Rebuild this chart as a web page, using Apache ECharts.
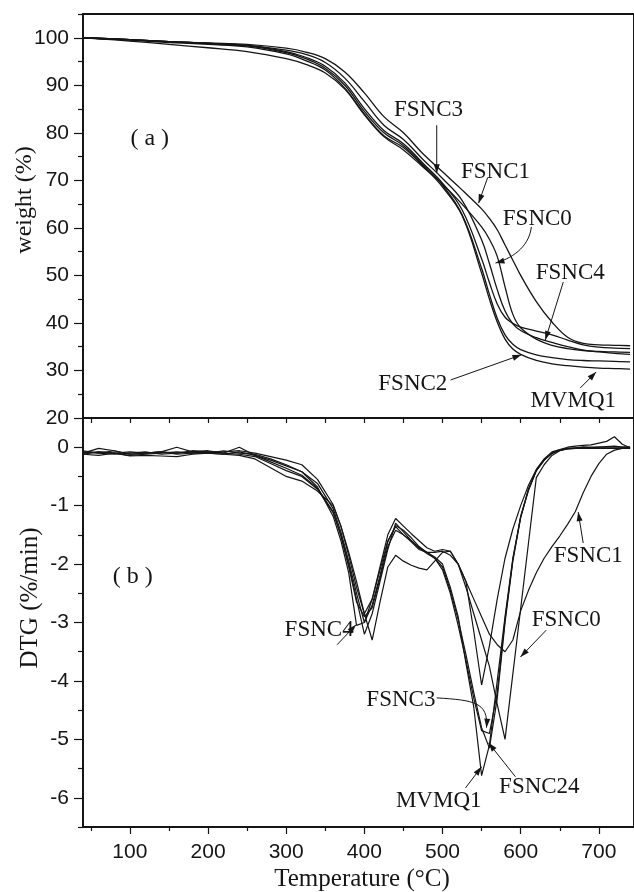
<!DOCTYPE html>
<html>
<head>
    <meta http-equiv=Content-Type content="text/html; charset=utf-8">
    <title>TG / DTG</title>
    <script type="text/javascript" src="https://cdn.jsdelivr.net/npm/echarts@6/dist/echarts.min.js"></script>
    <style>
        html, body { margin: 0; padding: 0; background: #fff; }
        #chartmain { width: 634px; height: 892px; }
    </style>
</head>
<body>
<div id="chartmain"></div>

<script type="text/javascript">
    // ---- (a) weight curves, temperature in degC
    var tempW = [40,100,150,200,250,300,325,350,375,400,425,450,475,500,525,550,560,570,580,590,600,620,640,660,680,700,720,740];
    var wMVMQ1 = [100,99.5,99.0,98.6,98.1,96.6,95.2,93.2,89.4,84.0,79.4,76.9,73.0,68.6,62.6,50.5,45.0,40.2,36.6,34.5,33.4,32.1,31.4,31.0,30.7,30.5,30.4,30.3];
    var wFSNC0 = [100,99.3,98.6,97.9,97.1,95.6,94.4,92.6,89.2,83.8,79.2,76.4,72.8,69.2,65.0,60.2,57.6,54.0,47.6,41.8,39.0,36.6,35.3,34.6,34.2,34.0,33.9,33.8];
    var wFSNC1 = [100,99.6,99.2,98.9,98.6,97.8,97.0,95.6,92.8,88.4,83.4,80.0,75.6,71.8,68.0,64.0,62.0,59.6,56.4,53.2,50.0,44.5,40.2,37.0,35.7,35.4,35.3,35.2];
    var wFSNC2 = [100,99.6,99.2,98.8,98.3,96.9,95.6,93.6,90.0,84.5,80.0,77.3,73.3,69.0,62.8,51.5,46.0,41.0,37.5,35.5,34.4,33.3,32.7,32.3,32.1,32.0,31.9,31.8];
    var wFSNC3 = [100,99.6,99.2,98.8,98.4,97.4,96.5,94.8,91.5,86.6,81.6,78.6,74.4,70.4,65.8,57.5,52.5,47.0,42.5,39.8,38.4,36.9,35.9,35.0,34.3,33.9,33.6,33.4];
    var wFSNC4 = [100,99.6,99.2,98.8,98.4,97.1,95.9,94.0,90.5,85.1,80.5,77.7,73.6,69.4,63.8,53.5,48.5,44.0,41.2,39.9,39.1,38.3,37.5,36.4,35.4,34.9,34.7,34.6];

    // ---- (b) DTG curves (%/min)
    var tempD = [40,60,80,100,120,140,160,180,200,220,240,260,280,300,320,340,360,
        370,380,390,400,410,420,430,440,450,460,470,480,490,500,510,520,530,540,550,560,570,580,590,600,
        610,620,630,640,650,660,670,680,690,700,710,720,730,740];
    var dMVMQ1 = [-0.08,-0.1,-0.06,-0.12,-0.1,-0.08,-0.1,-0.06,-0.08,-0.1,-0.12,
        -0.16,-0.28,-0.4,-0.5,-0.72,-1.12,
        -1.5,-2.0,-2.6,-3.2,-2.85,-2.3,-1.75,-1.3,-1.45,-1.6,-1.72,-1.8,-1.88,
        -2.0,-2.4,-2.9,-3.7,-4.45,-5.62,-5.1,-4.0,-2.9,-1.9,-1.2,-0.72,-0.4,-0.22,-0.1,-0.05,-0.03,-0.02,-0.02,-0.02,-0.02,-0.02,-0.02,-0.02,-0.02];
    var dFSNC0 = [-0.1,-0.08,-0.1,-0.08,-0.1,-0.08,-0.12,-0.1,-0.08,-0.08,-0.06,
        -0.1,-0.16,-0.22,-0.3,-0.55,-0.98,
        -1.35,-1.85,-2.4,-2.85,-2.6,-2.05,-1.5,-1.22,-1.35,-1.48,-1.6,-1.72,-1.78,
        -1.75,-1.78,-2.0,-2.4,-2.85,-3.3,-3.75,-4.4,-5.0,-3.88,-2.76,-1.64,-0.52,-0.3,-0.14,-0.06,-0.03,-0.02,-0.02,-0.02,-0.02,-0.02,-0.02,-0.02,-0.02];
    var dFSNC1 = [-0.12,-0.14,-0.1,-0.15,-0.14,-0.15,-0.16,-0.12,-0.1,-0.12,-0.14,
        -0.2,-0.35,-0.5,-0.58,-0.75,-1.0,
        -1.35,-1.8,-2.3,-2.85,-3.3,-2.65,-2.05,-1.85,-1.95,-2.02,-2.07,-2.1,-1.95,
        -1.8,-1.78,-2.0,-2.3,-2.6,-2.9,-3.2,-3.38,-3.5,-3.3,-2.8,-2.45,-2.15,-1.9,-1.7,-1.52,-1.32,-1.1,-0.78,-0.5,-0.28,-0.12,-0.05,-0.02,-0.02];
    var dFSNC2 = [-0.12,-0.08,-0.1,-0.14,-0.12,-0.1,-0.08,-0.1,-0.1,-0.06,-0.1,
        -0.12,-0.2,-0.3,-0.42,-0.62,-1.05,
        -1.45,-1.95,-2.5,-3.0,-2.7,-2.2,-1.62,-1.34,-1.42,-1.55,-1.7,-1.8,-1.9,
        -2.05,-2.45,-2.95,-3.55,-4.2,-4.8,-5.15,-4.3,-3.0,-1.95,-1.2,-0.74,-0.4,-0.22,-0.11,-0.05,-0.02,-0.02,0.0,-0.01,0.0,0.01,0.02,0.0,0.0];
    var dFSNC3 = [-0.06,-0.1,-0.12,-0.1,-0.08,-0.12,-0.1,-0.08,-0.1,-0.12,-0.08,
        -0.14,-0.25,-0.36,-0.48,-0.7,-1.1,
        -1.52,-2.05,-2.65,-2.9,-2.75,-2.25,-1.7,-1.42,-1.5,-1.6,-1.72,-1.82,-1.9,
        -2.1,-2.5,-3.05,-3.65,-4.3,-4.85,-4.9,-4.2,-2.95,-1.92,-1.18,-0.72,-0.4,-0.22,-0.1,-0.05,-0.02,-0.01,0.0,0.0,0.0,0.0,0.0,0.0,0.0];
    var dFSNC4 = [-0.1,-0.02,-0.06,-0.12,-0.1,-0.08,0.0,-0.08,-0.06,-0.1,0.0,
        -0.14,-0.22,-0.32,-0.42,-0.68,-1.18,
        -1.6,-2.15,-3.05,-3.0,-2.6,-2.1,-1.6,-1.36,-1.5,-1.62,-1.75,-1.8,-1.8,
        -1.78,-1.85,-2.0,-2.3,-3.15,-4.07,-3.4,-2.6,-1.9,-1.4,-1.0,-0.65,-0.38,-0.2,-0.08,-0.04,0.0,0.02,0.03,0.04,0.07,0.1,0.18,0.05,-0.01];

    // axis ticks
    var weightTicks = [20,30,40,50,60,70,80,90,100];
    var weightMinorTicks = [25,35,45,55,65,75,85,95,105];
    var dtgTicks = [-6,-5,-4,-3,-2,-1,0];
    var dtgMinorTicks = [-6.5,-5.5,-4.5,-3.5,-2.5,-1.5,-0.5];
    var tempTicks = [100,200,300,400,500,600,700];
    var tempMinorTicks = [50,150,250,350,450,550,650];
    var tempAllTicks = [50,100,150,200,250,300,350,400,450,500,550,600,650,700];

    // callouts, in data units: [temperature, value]
    var notesTop = [
        {text: 'FSNC3', at: [482, 84.8], from: [492.6, 81.6], to: [492.6, 71.5]},
        {text: 'FSNC1', at: [567.8, 71.8], from: [557.6, 70.5], to: [546.1, 65.2]},
        {text: 'FSNC0', at: [621.3, 61.9], from: [613.7, 60.2], c1: [611.1, 56.6], c2: [594.6, 53.9], to: [567.8, 52.6]},
        {text: 'FSNC4', at: [663.4, 50.5], from: [654.5, 48.6], to: [631.5, 36.4]},
        {text: 'FSNC2', at: [462, 27.2], from: [510.4, 28.0], to: [601, 33.3]},
        {text: 'MVMQ1', at: [667.2, 23.6], from: [676.2, 26.3], to: [696.6, 29.7]}
    ];
    var notesBottom = [
        {text: 'FSNC1', at: [686.4, -1.86], from: [680, -1.64], to: [673.6, -1.11]},
        {text: 'FSNC0', at: [658.3, -2.96], from: [632.8, -3.13], to: [599.7, -3.59]},
        {text: 'FSNC4', at: [342.1, -3.13], from: [365.1, -3.38], to: [389.3, -3.04]},
        {text: 'FSNC3', at: [446.7, -4.33], from: [492.6, -4.29], c1: [539.8, -4.33], c2: [558.9, -4.36], to: [556.3, -4.80]},
        {text: 'FSNC24', at: [623.9, -5.82], from: [593.3, -5.64], to: [558.9, -5.06]},
        {text: 'MVMQ1', at: [495.1, -6.05], from: [529.5, -5.83], to: [549.9, -5.47]}
    ];

    var ink = '#151515';
    var sans = '"Liberation Sans", Arial, sans-serif';
    var serif = '"Liberation Serif", "Times New Roman", serif';

    function pairs(xs, ys) {
        return xs.map(function (x, i) { return [x, ys[i]]; });
    }

    var tgaList = [['MVMQ1', wMVMQ1], ['FSNC0', wFSNC0], ['FSNC1', wFSNC1], ['FSNC2', wFSNC2], ['FSNC3', wFSNC3], ['FSNC4', wFSNC4]];
    var dtgList = [['MVMQ1', dMVMQ1], ['FSNC0', dFSNC0], ['FSNC1', dFSNC1], ['FSNC2', dFSNC2], ['FSNC3', dFSNC3], ['FSNC4', dFSNC4]];

    var series = [];
    tgaList.forEach(function (s) {
        series.push({
            name: s[0], type: 'line', xAxisIndex: 0, yAxisIndex: 0,
            data: pairs(tempW, s[1]), smooth: 0.4, showSymbol: false, symbol: 'none',
            lineStyle: {color: ink, width: 1.3}, silent: true
        });
    });
    dtgList.forEach(function (s) {
        series.push({
            name: s[0], type: 'line', xAxisIndex: 1, yAxisIndex: 1,
            data: pairs(tempD, s[1]), smooth: false, showSymbol: false, symbol: 'none',
            lineStyle: {color: ink, width: 1.2}, silent: true
        });
    });

    var axisLine = {show: true, onZero: false, lineStyle: {color: ink, width: 2}};
    var noLine = {show: false, onZero: false};
    var tickStyle = {color: ink, width: 1.2};
    var labelStyle = {show: true, color: ink, fontSize: 21, fontFamily: sans};

    // extra axes that only carry the short ticks
    function minorX(grid, values, len) {
        return {
            type: 'value', gridIndex: grid, min: 40, max: 745, position: 'bottom',
            axisLine: noLine, axisLabel: {show: false}, splitLine: {show: false},
            axisTick: {show: true, length: len, customValues: values, lineStyle: tickStyle}
        };
    }
    function minorY(grid, min, max, values) {
        return {
            type: 'value', gridIndex: grid, min: min, max: max, position: 'left',
            axisLine: noLine, axisLabel: {show: false}, splitLine: {show: false},
            axisTick: {show: true, length: 5, customValues: values, lineStyle: tickStyle}
        };
    }

    var chart = echarts.init(document.getElementById('chartmain'));
    chart.setOption({
        animation: false,
        backgroundColor: '#fff',
        grid: [
            {left: 83, top: 14, width: 553, height: 404, show: true, borderColor: ink, borderWidth: 2},
            {left: 83, top: 418, width: 553, height: 409, show: true, borderColor: ink, borderWidth: 2}
        ],
        xAxis: [
            {
                type: 'value', gridIndex: 0, min: 40, max: 745, position: 'bottom',
                axisLine: axisLine,
                axisTick: {show: true, length: 5, customValues: tempAllTicks, lineStyle: tickStyle},
                axisLabel: {show: false}, splitLine: {show: false}
            },
            {
                type: 'value', gridIndex: 1, min: 40, max: 745, position: 'bottom',
                axisLine: axisLine,
                axisTick: {show: true, length: 7, customValues: tempTicks, lineStyle: tickStyle},
                axisLabel: Object.assign({margin: 15, customValues: tempTicks}, labelStyle),
                splitLine: {show: false}
            },
            minorX(1, tempMinorTicks, 4)
        ],
        yAxis: [
            {
                type: 'value', gridIndex: 0, min: 20, max: 105, position: 'left',
                axisLine: axisLine,
                axisTick: {show: true, length: 9, customValues: weightTicks, lineStyle: tickStyle},
                axisLabel: Object.assign({margin: 14, customValues: weightTicks}, labelStyle),
                splitLine: {show: false}
            },
            {
                type: 'value', gridIndex: 1, min: -6.5, max: 0.5, position: 'left',
                axisLine: axisLine,
                axisTick: {show: true, length: 9, customValues: dtgTicks, lineStyle: tickStyle},
                axisLabel: Object.assign({margin: 14, customValues: dtgTicks}, labelStyle),
                splitLine: {show: false}
            },
            minorY(0, 20, 105, weightMinorTicks),
            minorY(1, -6.5, 0.5, dtgMinorTicks)
        ],
        series: series
    });

    // callouts and titles, placed through the axes
    function toPx(grid, p) {
        return chart.convertToPixel({gridIndex: grid}, p);
    }
    function head(tip, back) {
        var dx = tip[0] - back[0], dy = tip[1] - back[1];
        var len = Math.sqrt(dx * dx + dy * dy) || 1;
        var ux = dx / len, uy = dy / len;
        var L = 9, W = 3;
        return {
            type: 'polygon', silent: true,
            shape: {points: [tip,
                [tip[0] - ux * L - uy * W, tip[1] - uy * L + ux * W],
                [tip[0] - ux * L + uy * W, tip[1] - uy * L - ux * W]]},
            style: {fill: ink}
        };
    }
    function label(p, text, size) {
        return {
            type: 'text', x: p[0], y: p[1], silent: true,
            style: {text: text, fill: ink, fontSize: size, fontFamily: serif,
                align: 'center', verticalAlign: 'middle', textAlign: 'center', textVerticalAlign: 'middle'}
        };
    }
    function notes(grid, list) {
        var out = [];
        list.forEach(function (n) {
            var a = toPx(grid, n.from), b = toPx(grid, n.to);
            out.push(label(toPx(grid, n.at), n.text, 23));
            if (n.c1) {
                var c1 = toPx(grid, n.c1), c2 = toPx(grid, n.c2);
                out.push({
                    type: 'bezierCurve', silent: true,
                    shape: {x1: a[0], y1: a[1], x2: b[0], y2: b[1], cpx1: c1[0], cpy1: c1[1], cpx2: c2[0], cpy2: c2[1]},
                    style: {stroke: ink, lineWidth: 1, fill: null}
                });
                out.push(head(b, c2));
            } else {
                out.push({
                    type: 'line', silent: true,
                    shape: {x1: a[0], y1: a[1], x2: b[0], y2: b[1]},
                    style: {stroke: ink, lineWidth: 1}
                });
                out.push(head(b, a));
            }
        });
        return out;
    }

    var graphic = [].concat(notes(0, notesTop), notes(1, notesBottom));
    graphic.push(label(toPx(0, [125.4, 78.7]), '( a )', 24));
    graphic.push(label(toPx(1, [103.7, -2.22]), '( b )', 24));
    graphic.push({
        type: 'text', x: 25, y: 200, rotation: Math.PI / 2, silent: true,
        style: {text: 'weight (%)', fill: ink, fontSize: 24, fontFamily: serif,
            align: 'center', verticalAlign: 'middle', textAlign: 'center', textVerticalAlign: 'middle'}
    });
    graphic.push({
        type: 'text', x: 30, y: 598, rotation: Math.PI / 2, silent: true,
        style: {text: 'DTG (%/min)', fill: ink, fontSize: 25, fontFamily: serif,
            align: 'center', verticalAlign: 'middle', textAlign: 'center', textVerticalAlign: 'middle'}
    });
    graphic.push(label([362, 879], 'Temperature (\u00B0C)', 25));

    chart.setOption({graphic: graphic});
</script>
</body>
</html>
